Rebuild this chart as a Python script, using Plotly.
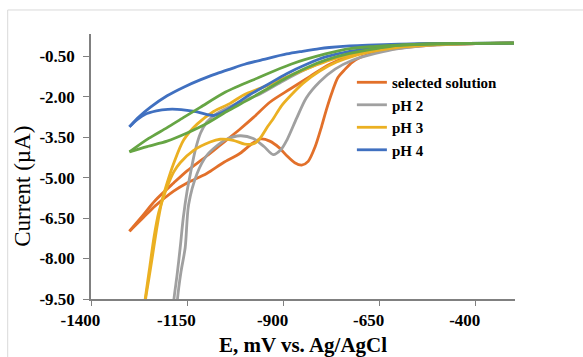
import plotly.graph_objects as go

# ---------------- data (E in mV vs Ag/AgCl, I in µA) ----------------
E_TICKS = [-1400, -1150, -900, -650, -400]
E_LABELS = ["-1400", "-1150", "-900", "-650", "-400"]
I_TICKS = [-9.5, -8.0, -6.5, -5.0, -3.5, -2.0, -0.5]
I_LABELS = ["-9.50", "-8.00", "-6.50", "-5.00", "-3.50", "-2.00", "-0.50"]

# selected solution (orange): smooth branch and branch with peak
sel_a_E = [-300, -420, -520, -600, -649, -718, -779, -830, -882, -934, -978, -1012, -1064, -1099, -1150, -1185, -1233, -1265, -1300]
sel_a_I = [-0.02, -0.04, -0.07, -0.13, -0.22, -0.45, -0.80, -1.25, -1.72, -2.20, -2.78, -3.20, -3.80, -4.20, -4.75, -5.20, -5.85, -6.40, -6.99]
sel_b_E = [-300, -400, -500, -575, -640, -671, -700, -720, -740, -758, -772, -788, -800, -817, -835, -852, -870, -890, -910, -935, -958, -979, -1012, -1056, -1099, -1150, -1185, -1233, -1265, -1300]
sel_b_I = [-0.02, -0.04, -0.08, -0.17, -0.30, -0.41, -0.55, -0.72, -1.00, -1.30, -1.80, -2.50, -3.10, -3.86, -4.40, -4.54, -4.45, -4.20, -3.90, -3.65, -3.57, -3.72, -4.10, -4.45, -4.85, -5.20, -5.50, -6.05, -6.50, -6.99]

# pH 2 (gray)
ph2_a_E = [-300, -420, -520, -600, -660, -720, -780, -840, -900, -960, -1012, -1050, -1075, -1099, -1115, -1129, -1140, -1150, -1160, -1168, -1176, -1185, -1192]
ph2_a_I = [-0.02, -0.04, -0.08, -0.15, -0.25, -0.40, -0.62, -0.98, -1.42, -1.90, -2.20, -2.45, -2.65, -2.95, -3.35, -4.00, -4.75, -5.50, -6.50, -7.60, -8.60, -9.60, -11.0]
ph2_b_E = [-300, -400, -500, -600, -660, -720, -765, -805, -840, -865, -890, -905, -926, -950, -978, -1012, -1047, -1075, -1100, -1124, -1146, -1155, -1166, -1175, -1182]
ph2_b_I = [-0.02, -0.04, -0.08, -0.22, -0.40, -0.65, -0.98, -1.45, -2.05, -2.80, -3.60, -3.95, -4.15, -3.85, -3.55, -3.45, -3.58, -3.85, -4.20, -4.85, -6.00, -7.60, -8.50, -9.50, -11.0]

# pH 3 (yellow)
ph3_a_E = [-300, -420, -520, -600, -660, -727, -779, -865, -952, -1004, -1038, -1081, -1124, -1159, -1185, -1202, -1215, -1228, -1240, -1250, -1258, -1266]
ph3_a_I = [-0.02, -0.04, -0.08, -0.15, -0.26, -0.45, -0.65, -1.12, -1.65, -1.95, -2.25, -2.55, -3.02, -3.61, -4.48, -5.20, -5.84, -6.80, -7.90, -8.80, -9.50, -10.5]
ph3_b_E = [-300, -400, -500, -590, -649, -709, -761, -805, -848, -880, -905, -925, -940, -958, -975, -1000, -1030, -1064, -1090, -1133, -1168, -1185, -1202, -1212, -1224, -1236, -1248, -1259, -1268]
ph3_b_I = [-0.02, -0.03, -0.07, -0.16, -0.28, -0.46, -0.72, -1.05, -1.50, -1.95, -2.35, -2.80, -3.10, -3.50, -3.74, -3.76, -3.62, -3.58, -3.68, -3.99, -4.45, -4.80, -5.35, -5.75, -6.30, -7.20, -8.40, -9.50, -10.5]

# pH 4 (blue)
ph4_a_E = [-300, -420, -520, -600, -680, -727, -780, -805, -850, -891, -950, -1000, -1038, -1073, -1116, -1159, -1202, -1246, -1275, -1300]
ph4_a_I = [-0.02, -0.03, -0.04, -0.06, -0.09, -0.12, -0.18, -0.22, -0.32, -0.42, -0.62, -0.80, -0.98, -1.15, -1.38, -1.65, -1.97, -2.40, -2.75, -3.12]
ph4_b_E = [-300, -420, -520, -600, -650, -727, -790, -839, -891, -940, -995, -1038, -1060, -1081, -1100, -1124, -1150, -1176, -1200, -1230, -1260, -1280, -1300]
ph4_b_I = [-0.02, -0.03, -0.04, -0.08, -0.17, -0.32, -0.53, -0.80, -1.15, -1.55, -2.00, -2.42, -2.60, -2.70, -2.66, -2.57, -2.51, -2.47, -2.47, -2.53, -2.66, -2.85, -3.12]

# fifth curve (green, not in legend)
g_a_E = [-300, -420, -520, -600, -660, -727, -790, -880, -965, -1050, -1116, -1160, -1202, -1250, -1300]
g_a_I = [-0.02, -0.03, -0.05, -0.09, -0.14, -0.22, -0.42, -0.80, -1.30, -1.83, -2.40, -2.78, -3.15, -3.55, -4.05]
g_b_E = [-300, -420, -520, -600, -650, -727, -790, -839, -891, -940, -995, -1047, -1099, -1150, -1202, -1254, -1300]
g_b_I = [-0.02, -0.03, -0.05, -0.10, -0.20, -0.40, -0.65, -0.93, -1.30, -1.70, -2.15, -2.55, -3.00, -3.35, -3.65, -3.85, -4.05]

series = [
    ("selected solution", "#E2702A", sel_a_E, sel_a_I, sel_b_E, sel_b_I, True),
    ("pH 2", "#A0A0A0", ph2_a_E, ph2_a_I, ph2_b_E, ph2_b_I, True),
    ("pH 3", "#EBB022", ph3_a_E, ph3_a_I, ph3_b_E, ph3_b_I, True),
    ("pH 4", "#4070C0", ph4_a_E, ph4_a_I, ph4_b_E, ph4_b_I, True),
    ("pH 5", "#66A544", g_a_E, g_a_I, g_b_E, g_b_I, False),
]

FONT = '"Liberation Serif", "Times New Roman", serif'

fig = go.Figure()
for name, color, ea, ia, eb, ib, show in series:
    for k, (xx, yy) in enumerate(((ea, ia), (eb, ib))):
        fig.add_trace(go.Scatter(
            x=xx, y=yy, mode="lines", name=name, legendgroup=name,
            showlegend=(show and k == 0),
            line=dict(color=color, width=2.8, shape="spline", smoothing=0.8),
            hoverinfo="skip",
        ))

L, R, T, B = 90.5, 67.5, 34, 58.3
W, H = 583, 357
pw, ph = W - L - R, H - T - B
NB = "\u00a0"

fig.update_layout(
    width=W, height=H,
    margin=dict(l=L, r=R, t=T, b=B, pad=0),
    paper_bgcolor="white", plot_bgcolor="white",
    font=dict(family=FONT, color="#000000"),
    showlegend=True,
    legend=dict(
        x=(352 - L) / pw, y=(298.7 - 66) / ph, xanchor="left", yanchor="top",
        bgcolor="rgba(0,0,0,0)", borderwidth=0,
        font=dict(family=FONT, size=15, weight="bold", color="#000000"),
        tracegroupgap=0, itemwidth=30,
    ),
    xaxis=dict(
        range=[-1400, -297], tickmode="array", tickvals=E_TICKS,
        ticktext=[t + NB * 5 for t in E_LABELS],
        showgrid=False, zeroline=False, showline=True,
        linecolor="#808080", linewidth=1.5,
        ticks="outside", ticklen=5, tickwidth=1.2, tickcolor="#808080",
        tickfont=dict(family=FONT, size=17, weight="bold", color="#000000"),
        ticklabelstandoff=0,
        title=dict(text="E, mV vs. Ag/AgCl", standoff=11,
                   font=dict(family=FONT, size=21, weight="bold", color="#000000")),
        automargin=False,
    ),
    yaxis=dict(
        range=[-9.5, 0.32], tickmode="array", tickvals=I_TICKS, ticktext=I_LABELS,
        showgrid=False, zeroline=False, showline=True,
        linecolor="#808080", linewidth=1.5,
        ticks="outside", ticklen=6, tickwidth=1.2, tickcolor="#808080",
        tickfont=dict(family=FONT, size=17, weight="bold", color="#000000"),
        ticklabelstandoff=5,
        automargin=False,
    ),
    annotations=[dict(
        text="Current (µA)", textangle=-90, showarrow=False,
        xref="paper", yref="paper", x=(22 - L) / pw, y=(298.7 - 186) / ph,
        xanchor="center", yanchor="middle",
        font=dict(family=FONT, size=23, color="#000000"),
    )],
    shapes=[dict(
        type="rect", xref="paper", yref="paper",
        x0=(7 - L) / pw, x1=(W + 20 - L) / pw,
        y0=(298.7 - (H + 20)) / ph, y1=(298.7 - 10) / ph,
        line=dict(color="#D9D9D9", width=1), fillcolor="rgba(0,0,0,0)", layer="below",
    )],
)

fig.write_html("out.html")
